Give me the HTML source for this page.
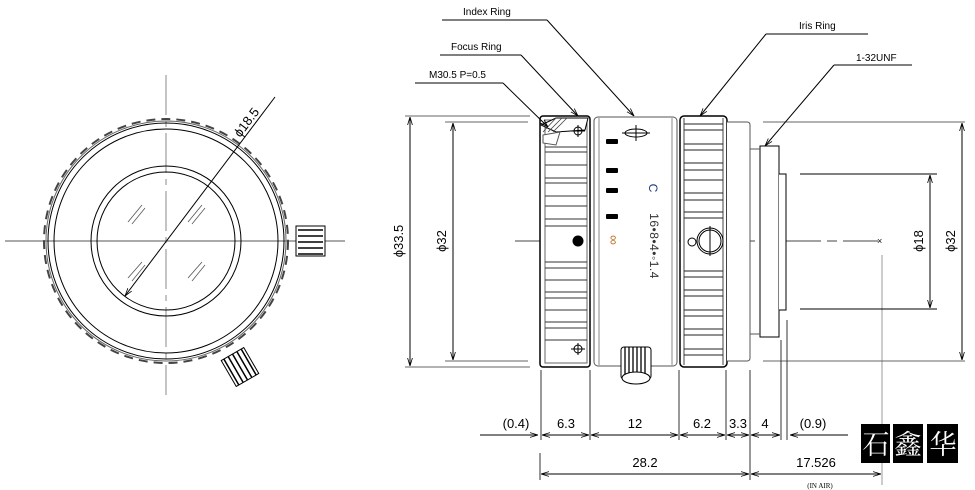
<!DOCTYPE html>
<html><head><meta charset="utf-8"><style>
html,body{margin:0;padding:0;background:#fff;}
svg{display:block;font-family:"Liberation Sans","Noto Sans CJK SC",sans-serif;}
</style></head><body>
<svg width="975" height="490" viewBox="0 0 975 490" xmlns="http://www.w3.org/2000/svg">
<defs>
<marker id="a" viewBox="0 0 10 10" refX="10" refY="5" markerWidth="8" markerHeight="8" orient="auto-start-reverse"><path d="M0,2 L10,5 L0,8" fill="none" stroke="#000" stroke-width="1"/></marker>
</defs>
<g fill="none" stroke="#000" stroke-width="1">
<!-- LEFT VIEW -->
<line x1="166" y1="75" x2="166" y2="395" stroke="#888" stroke-dasharray="40,6,6,6"/>
<line x1="5" y1="241" x2="345" y2="241" stroke="#555"/>
<circle cx="166" cy="241" r="122" stroke="#444" stroke-width="2" stroke-dasharray="9,6"/>
<circle cx="166" cy="241" r="120" stroke="#666"/>
<circle cx="166" cy="241" r="118"/>
<circle cx="166" cy="241" r="112"/>
<circle cx="166" cy="241" r="75"/>
<circle cx="166" cy="241" r="69"/>
<line x1="125" y1="296" x2="275" y2="97" marker-start="url(#a)"/>
<g stroke="#555" stroke-width="0.8">
<line x1="128" y1="222" x2="142" y2="205"/><line x1="132" y1="224" x2="145" y2="208"/>
<line x1="188" y1="222" x2="202" y2="205"/><line x1="192" y1="224" x2="205" y2="208"/>
<line x1="128" y1="278" x2="142" y2="262"/><line x1="132" y1="281" x2="145" y2="265"/>
<line x1="188" y1="278" x2="202" y2="262"/><line x1="192" y1="281" x2="205" y2="265"/>
</g>
<rect x="296" y="226" width="29" height="30" fill="#fff"/>
<g stroke-width="1.5"><line x1="298" y1="230" x2="323" y2="230"/><line x1="298" y1="236" x2="323" y2="236"/><line x1="298" y1="242" x2="323" y2="242"/><line x1="298" y1="248" x2="323" y2="248"/><line x1="298" y1="254" x2="323" y2="254"/></g>
<g transform="translate(240,367) rotate(-30)">
<rect x="-13" y="-15" width="26" height="30" fill="#fff"/>
<g stroke-width="1.5"><line x1="-10" y1="-15" x2="-10" y2="15"/><line x1="-5" y1="-15" x2="-5" y2="15"/><line x1="0" y1="-15" x2="0" y2="15"/><line x1="5" y1="-15" x2="5" y2="15"/><line x1="10" y1="-15" x2="10" y2="15"/></g>
</g>

<!-- SIDE VIEW -->
<line x1="515" y1="241" x2="878" y2="241" stroke="#444" stroke-dasharray="60,6,10,6"/>
<text x="877" y="244" font-size="9" fill="#000" stroke="none">×</text>
<line x1="882" y1="255" x2="882" y2="485" stroke="#999"/>
<line x1="405" y1="116" x2="530" y2="116" stroke="#666"/>
<line x1="405" y1="367" x2="530" y2="367" stroke="#666"/>
<line x1="410" y1="117" x2="410" y2="366" marker-start="url(#a)" marker-end="url(#a)"/>
<line x1="445" y1="122" x2="528" y2="122" stroke="#666"/>
<line x1="445" y1="361" x2="528" y2="361" stroke="#666"/>
<line x1="453" y1="123" x2="453" y2="360" marker-start="url(#a)" marker-end="url(#a)"/>
<!-- focus ring -->
<rect x="540" y="116" width="50" height="251" rx="3" fill="#fff" stroke-width="1.5"/>
<rect x="545" y="120" width="42" height="243" stroke="#666"/>
<path d="M541,125 L556,118 L588,118 L585,130 L556,132 Z" fill="#fff"/>
<g stroke="#444" stroke-width="0.8"><line x1="543" y1="132" x2="556" y2="118"/><line x1="548" y1="132" x2="562" y2="118"/><line x1="553" y1="132" x2="567" y2="118"/></g>
<path d="M543,135 L560,132 L556,145 L543,143 Z" fill="#fff" stroke="#555"/>
<g stroke="#333">
<line x1="545" y1="147" x2="587" y2="147"/><line x1="545" y1="152" x2="587" y2="152"/>
<line x1="545" y1="165" x2="587" y2="165"/><line x1="545" y1="178" x2="587" y2="178"/>
<line x1="545" y1="183" x2="587" y2="183"/><line x1="545" y1="196" x2="587" y2="196"/>
<line x1="545" y1="206" x2="587" y2="206"/><line x1="545" y1="219" x2="587" y2="219"/>
<line x1="545" y1="226" x2="587" y2="226"/>
<line x1="545" y1="262" x2="587" y2="262"/><line x1="545" y1="268" x2="587" y2="268"/>
<line x1="545" y1="280" x2="587" y2="280"/><line x1="545" y1="292" x2="587" y2="292"/>
<line x1="545" y1="298" x2="587" y2="298"/><line x1="545" y1="310" x2="587" y2="310"/>
<line x1="545" y1="322" x2="587" y2="322"/><line x1="545" y1="328" x2="587" y2="328"/>
<line x1="545" y1="340" x2="587" y2="340"/>
</g>
<circle cx="578" cy="241" r="5" fill="#000"/>
<circle cx="578" cy="131" r="4"/><line x1="578" y1="125" x2="578" y2="137"/><line x1="571" y1="131" x2="585" y2="131"/>
<circle cx="578" cy="349" r="4"/><line x1="578" y1="343" x2="578" y2="355"/><line x1="571" y1="349" x2="585" y2="349"/>
<!-- index ring -->
<rect x="594" y="117" width="83" height="249" rx="4" fill="#fff" stroke="#555"/>
<line x1="599" y1="118" x2="599" y2="365" stroke="#888"/>
<line x1="672" y1="118" x2="672" y2="365" stroke="#888"/>
<ellipse cx="636" cy="133" rx="11" ry="4"/><line x1="636" y1="125" x2="636" y2="141"/><line x1="622" y1="133" x2="650" y2="133"/>
<g fill="#000" stroke="none">
<rect x="606" y="139" width="12" height="5" rx="1"/><rect x="606" y="168" width="12" height="5" rx="1"/>
<rect x="606" y="188" width="12" height="5" rx="1"/><rect x="606" y="214" width="12" height="5" rx="1"/>
</g>
<text transform="translate(609,240) rotate(90)" font-size="14" fill="#c07020" stroke="none" text-anchor="middle">∞</text>
<text transform="translate(649,188) rotate(90)" font-size="12" fill="#1a3a7a" stroke="none" text-anchor="middle">C</text>
<text transform="translate(650,246) rotate(90)" font-size="12" fill="#333" stroke="none" text-anchor="middle" letter-spacing="0.5">16•8•4•◦1.4</text>
<rect x="621" y="347" width="30" height="32" rx="3" fill="#fff"/>
<g stroke-width="1.3"><line x1="625" y1="347" x2="625" y2="376"/><line x1="629" y1="347" x2="629" y2="376"/><line x1="633" y1="347" x2="633" y2="376"/><line x1="637" y1="347" x2="637" y2="376"/><line x1="641" y1="347" x2="641" y2="376"/><line x1="645" y1="347" x2="645" y2="376"/></g>
<ellipse cx="636" cy="378" rx="14" ry="6" fill="#fff"/>
<!-- iris ring -->
<rect x="680" y="116" width="47" height="251" rx="4" fill="#fff" stroke-width="1.5"/>
<line x1="684" y1="118" x2="684" y2="365" stroke="#444"/><line x1="723" y1="118" x2="723" y2="365" stroke="#444"/>
<g stroke="#222">
<line x1="684" y1="124" x2="723" y2="124"/><line x1="684" y1="130" x2="723" y2="130"/><line x1="684" y1="144" x2="723" y2="144"/><line x1="684" y1="150" x2="723" y2="150"/><line x1="684" y1="163" x2="723" y2="163"/><line x1="684" y1="170" x2="723" y2="170"/><line x1="684" y1="180" x2="723" y2="180"/><line x1="684" y1="193" x2="723" y2="193"/><line x1="684" y1="200" x2="723" y2="200"/><line x1="684" y1="212" x2="723" y2="212"/><line x1="684" y1="218" x2="723" y2="218"/>
<line x1="684" y1="271" x2="723" y2="271"/><line x1="684" y1="277" x2="723" y2="277"/><line x1="684" y1="290" x2="723" y2="290"/><line x1="684" y1="296" x2="723" y2="296"/><line x1="684" y1="310" x2="723" y2="310"/><line x1="684" y1="316" x2="723" y2="316"/><line x1="684" y1="329" x2="723" y2="329"/><line x1="684" y1="335" x2="723" y2="335"/><line x1="684" y1="349" x2="723" y2="349"/><line x1="684" y1="355" x2="723" y2="355"/>
</g>
<circle cx="710" cy="241" r="13" fill="#fff"/><circle cx="710" cy="241" r="11"/>
<circle cx="692" cy="242" r="4" fill="#fff"/>
<line x1="710" y1="226" x2="710" y2="256"/>
<path d="M727,122 L747,122 Q750,122 750,125 L750,358 Q750,361 747,361 L727,361" fill="#fff" stroke="#555"/>
<rect x="760" y="146" width="19" height="191" fill="#fff"/>
<line x1="750" y1="149" x2="760" y2="149" stroke="#555"/><line x1="750" y1="334" x2="760" y2="334" stroke="#555"/>
<path d="M779,174 L786,174 L786,310 L779,310" fill="#fff"/>
<line x1="763" y1="122" x2="965" y2="122" stroke="#666"/>
<line x1="763" y1="361" x2="965" y2="361" stroke="#666"/>
<line x1="962" y1="123" x2="962" y2="360" marker-start="url(#a)" marker-end="url(#a)"/>
<line x1="800" y1="174" x2="937" y2="174"/>
<line x1="800" y1="309" x2="937" y2="309"/>
<line x1="930" y1="175" x2="930" y2="308" marker-start="url(#a)" marker-end="url(#a)"/>
<line x1="442" y1="20" x2="547" y2="20"/><line x1="547" y1="20" x2="634" y2="116" marker-end="url(#a)"/>
<line x1="440" y1="55" x2="521" y2="55"/><line x1="521" y1="55" x2="578" y2="116" marker-end="url(#a)"/>
<line x1="415" y1="83" x2="503" y2="83"/><line x1="503" y1="83" x2="548" y2="127" marker-end="url(#a)"/>
<line x1="766" y1="34" x2="868" y2="34"/><line x1="766" y1="34" x2="700" y2="116" marker-end="url(#a)"/>
<line x1="834" y1="65" x2="912" y2="65"/><line x1="834" y1="65" x2="765" y2="146" marker-end="url(#a)"/>
<g stroke="#333">
<line x1="541" y1="370" x2="541" y2="440"/><line x1="590" y1="370" x2="590" y2="440"/>
<line x1="679" y1="370" x2="679" y2="440"/><line x1="726" y1="370" x2="726" y2="440"/>
<line x1="750" y1="370" x2="750" y2="480"/><line x1="781" y1="340" x2="781" y2="440"/>
<line x1="787" y1="320" x2="787" y2="440"/>
<line x1="540" y1="453" x2="540" y2="480"/>
</g>
<line x1="480" y1="435" x2="538" y2="435" marker-end="url(#a)"/>
<line x1="542" y1="435" x2="589" y2="435" marker-start="url(#a)" marker-end="url(#a)"/>
<line x1="591" y1="435" x2="678" y2="435" marker-start="url(#a)" marker-end="url(#a)"/>
<line x1="680" y1="435" x2="725" y2="435" marker-start="url(#a)" marker-end="url(#a)"/>
<line x1="727" y1="435" x2="749" y2="435" marker-start="url(#a)" marker-end="url(#a)"/>
<line x1="751" y1="435" x2="780" y2="435" marker-start="url(#a)" marker-end="url(#a)"/>
<line x1="790" y1="435" x2="848" y2="435" marker-start="url(#a)"/>
<line x1="541" y1="474" x2="749" y2="474" marker-start="url(#a)" marker-end="url(#a)"/>
<line x1="751" y1="474" x2="881" y2="474" marker-start="url(#a)" marker-end="url(#a)"/>
</g>
<g fill="#000" font-size="11">
<text x="463" y="15" font-size="10">Index Ring</text>
<text x="451" y="50" font-size="10">Focus Ring</text>
<text x="429" y="78" font-size="10">M30.5 P=0.5</text>
<text x="799" y="29" font-size="10">Iris Ring</text>
<text x="856" y="61" font-size="10">1-32UNF</text>
<text transform="translate(403,241) rotate(-90)" font-size="13" text-anchor="middle">ϕ33.5</text>
<text transform="translate(446,241) rotate(-90)" font-size="13" text-anchor="middle">ϕ32</text>
<text transform="translate(923,241) rotate(-90)" font-size="13" text-anchor="middle">ϕ18</text>
<text transform="translate(955,241) rotate(-90)" font-size="13" text-anchor="middle">ϕ32</text>
<text transform="translate(250,125) rotate(-53)" font-size="13" text-anchor="middle">ϕ18.5</text>
<g font-size="13" text-anchor="middle">
<text x="516" y="428">(0.4)</text><text x="566" y="428">6.3</text><text x="635" y="428">12</text>
<text x="702" y="428">6.2</text><text x="738" y="428">3.3</text><text x="765" y="428">4</text>
<text x="813" y="428">(0.9)</text>
<text x="645" y="467">28.2</text><text x="816" y="467">17.526</text>
</g>
<text x="820" y="488" font-size="7" text-anchor="middle" font-family="Liberation Serif,serif">(IN AIR)</text>
</g>
<rect x="861" y="424" width="29" height="39" fill="#000"/>
<rect x="893" y="424" width="30" height="39" fill="#000"/>
<rect x="927" y="424" width="31" height="39" fill="#000"/>
<g fill="#fff" font-size="27" text-anchor="middle" font-family="'Noto Serif CJK SC','Noto Sans CJK SC',serif">
<text x="876" y="454">石</text><text x="908" y="454">鑫</text><text x="943" y="454">华</text>
</g>
</svg>
</body></html>
